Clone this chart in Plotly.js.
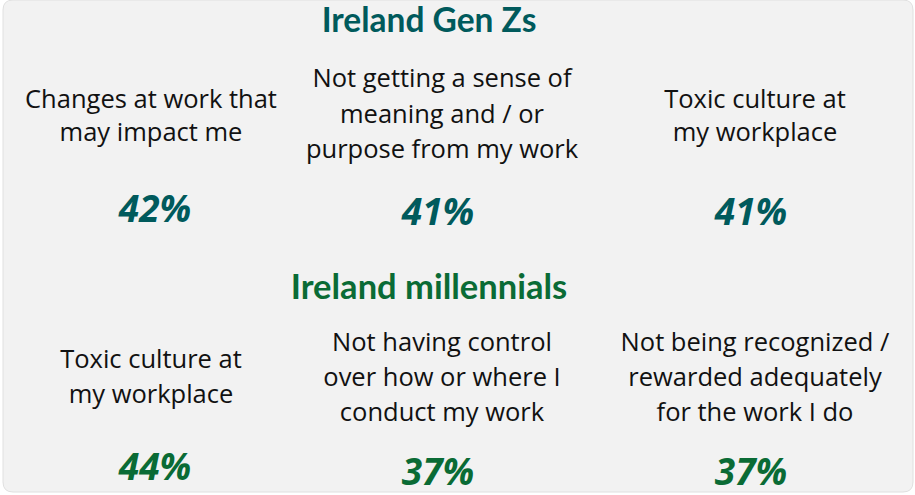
<!DOCTYPE html>
<html><head><meta charset="utf-8">
<script src="https://cdn.plot.ly/plotly-3.0.1.min.js"></script>
<style>html,body{margin:0;padding:0;background:#fff;}#c{width:915px;height:495px;}</style>
</head><body><div id="c"></div>
<script>
// Data
const groupTitles = ["Ireland Gen Zs", "Ireland millennials"];
const genzLabels = ["Changes at work that<br>may impact me", "Not getting a sense of<br>meaning and / or<br>purpose from my work", "Toxic culture at<br>my workplace"];
const genzValues = [42, 41, 41];
const millLabels = ["Toxic culture at<br>my workplace", "Not having control<br>over how or where I<br>conduct my work", "Not being recognized /<br>rewarded adequately<br>for the work I do"];
const millValues = [44, 37, 37];

const teal = "#005a5c", green = "#0a6b35";
const colX = [151, 442, 755];
const traces = [];
function addGroup(title, color, titleY, titleSize, labels, values, labelYs, valYs) {
  traces.push({x:[429], y:[titleY], mode:'text', text:['<b>'+title+'</b>'], textposition:'middle center',
    textfont:{family:'Lato, "Open Sans", sans-serif', size:titleSize, color:color}, hoverinfo:'skip', showlegend:false});
  labels.forEach((lab, i) => {
    const lines = lab.split('<br>');
    const ys = labelYs[lines.length];
    traces.push({x: lines.map(()=>colX[i]), y: ys, mode:'text', text: lines, textposition:'middle center',
      textfont:{family:'"Open Sans", sans-serif', size:25.5, color:'#111'}, hoverinfo:'skip', showlegend:false});
  });
  traces.push({x: colX.map((c,i)=>c + (i===0?4:-4)), y: valYs, mode:'text', text: values.map(v=>'<b><i>'+v+'%</i></b>'),
    textposition:'middle center', textfont:{family:'"Open Sans", sans-serif', size:37, color:color}, hoverinfo:'skip', showlegend:false});
}
addGroup(groupTitles[0], teal, 24, 33.5, genzLabels, genzValues, {2:[102,135], 3:[81,117,152]}, [213,216,216]);
addGroup(groupTitles[1], green, 290, 34.5, millLabels, millValues, {2:[362,397], 3:[345,380,415]}, [471,476,476]);

const layout = {
  width:915, height:495, margin:{l:0,r:0,t:0,b:0},
  paper_bgcolor:'#ffffff', plot_bgcolor:'rgba(0,0,0,0)',
  xaxis:{range:[0,915], visible:false, fixedrange:true},
  yaxis:{range:[495,0], visible:false, fixedrange:true},
  shapes:[{type:'path', xref:'x', yref:'y', layer:'below',
    path:'M 13 0 L 903 0 Q 913 0 913 10 L 913 482 Q 913 492 903 492 L 13 492 Q 3 492 3 482 L 3 10 Q 3 0 13 0 Z',
    fillcolor:'#f2f2f2', line:{color:'#e0e0e0', width:1}}]
};
Plotly.newPlot('c', traces, layout, {displayModeBar:false, staticPlot:true});
</script></body></html>
